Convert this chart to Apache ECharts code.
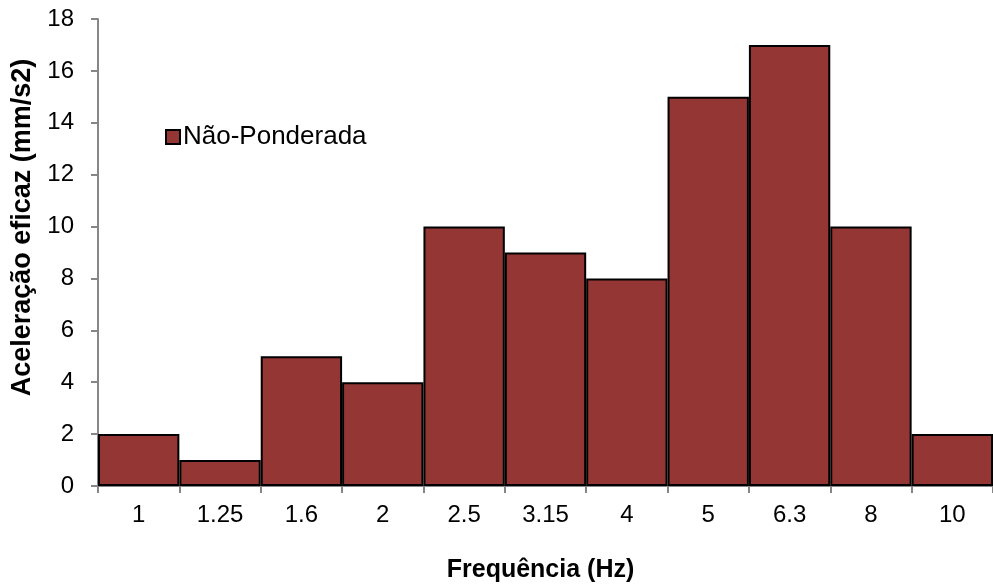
<!DOCTYPE html>
<html>
<head>
<meta charset="utf-8">
<script src="https://cdn.jsdelivr.net/npm/echarts@6/dist/echarts.min.js"></script>
<style>
  html, body { margin: 0; padding: 0; background: #fff; }
  #chart_1 { width: 993px; height: 588px; }
</style>
</head>
<body>
<div id="chart_1"></div>
<script>
// dados
const frequencias = ['1', '1.25', '1.6', '2', '2.5', '3.15', '4', '5', '6.3', '8', '10'];
const naoPonderada = [2, 1, 5, 4, 10, 9, 8, 15, 17, 10, 2];
const serieNome = 'Não-Ponderada';

const chart = echarts.init(document.getElementById('chart_1'), null, { renderer: 'canvas' });
const axisColor = '#868686';
const fonte = '"Liberation Sans", Arial, sans-serif';

chart.setOption({
  animation: false,
  legend: {
    show: true,
    left: 160,
    top: 119,
    icon: 'rect',
    itemWidth: 14,
    itemHeight: 14,
    itemGap: 8,
    data: [serieNome],
    textStyle: { fontSize: 26, color: '#000', fontFamily: fonte, padding: [0, 0, 0, -2] }
  },
  grid: {
    left: 98,
    right: 0,
    top: 19,
    bottom: 101
  },
  xAxis: {
    type: 'category',
    data: frequencias,
    name: 'Frequência (Hz)',
    nameLocation: 'middle',
    nameGap: 72,
    nameTextStyle: { fontSize: 25, fontWeight: 'bold', color: '#000', fontFamily: fonte, padding: [0, 10, 0, 0] },
    axisLine: { show: true, lineStyle: { color: axisColor, width: 2 } },
    axisTick: { show: true, length: 7, lineStyle: { color: axisColor, width: 2 } },
    axisLabel: { margin: 17, fontSize: 24, color: '#000', fontFamily: fonte },
    splitLine: { show: false }
  },
  yAxis: {
    type: 'value',
    min: 0,
    max: 18,
    interval: 2,
    name: 'Aceleração eficaz (mm/s2)',
    nameLocation: 'middle',
    nameGap: 62,
    nameRotate: 90,
    nameTextStyle: { fontSize: 27, fontWeight: 'bold', color: '#000', fontFamily: fonte, padding: [0, 0, 0, 50] },
    axisLine: { show: true, lineStyle: { color: axisColor, width: 2 } },
    axisTick: { show: true, length: 7, lineStyle: { color: axisColor, width: 2 } },
    axisLabel: { margin: 24, fontSize: 24, color: '#000', fontFamily: fonte },
    splitLine: { show: false }
  },
  series: [{
    name: serieNome,
    type: 'bar',
    data: naoPonderada,
    barCategoryGap: '0%',
    itemStyle: { color: '#943634', borderColor: '#000', borderWidth: 2 }
  }]
});
</script>
</body>
</html>
